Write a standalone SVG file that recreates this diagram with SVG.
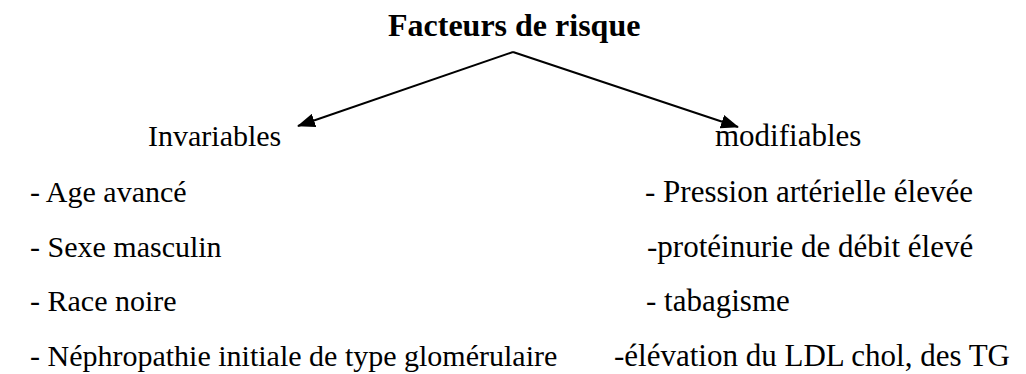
<svg xmlns="http://www.w3.org/2000/svg" width="1026" height="374" viewBox="0 0 1026 374">
<style>
text{font-family:'Liberation Serif','Times New Roman',serif;fill:#000;font-size:30px}
.title{font-weight:bold;font-size:32px}
.r{font-size:31px}
.conn{stroke:#000;stroke-width:2;fill:none}
</style>
<defs>
<marker id="ah" markerWidth="18" markerHeight="14" refX="17" refY="7" orient="auto" markerUnits="userSpaceOnUse" viewBox="0 0 18 14">
<path d="M0,0 L18,7 L0,14 z" fill="#000"/>
</marker>
</defs>
<rect width="1026" height="374" fill="#fff"/>
<g id="root"><text class="title" x="388" y="36">Facteurs de risque</text></g>
<g id="connectors">
<path class="conn" d="M513,52 L298,126" marker-end="url(#ah)"/>
<path class="conn" d="M513,52 L738,127" marker-end="url(#ah)"/>
</g>
<g id="invariables">
<text x="148" y="146">Invariables</text>
<text x="30" y="202">- Age avancé</text>
<text x="30" y="257">- Sexe masculin</text>
<text x="30" y="311">- Race noire</text>
<text x="30" y="366">- Néphropathie initiale de type glomérulaire</text>
</g>
<g id="modifiables">
<text class="r" x="715" y="146">modifiables</text>
<text class="r" x="645" y="202">- Pression artérielle élevée</text>
<text class="r" x="647" y="257">-protéinurie de débit élevé</text>
<text class="r" x="646" y="311">- tabagisme</text>
<text class="r" x="614" y="366">-élévation du LDL chol, des TG</text>
</g>
</svg>
